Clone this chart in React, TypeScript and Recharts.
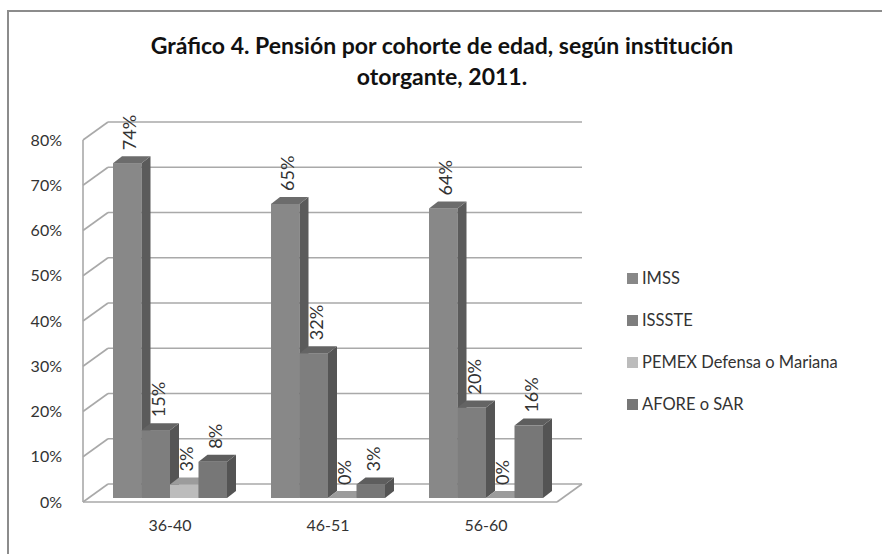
import { Bar, BarChart, CartesianGrid, LabelList, XAxis, YAxis } from 'recharts'

const categories = ['36-40', '46-51', '56-60']
const imss = [74, 65, 64]
const issste = [15, 32, 20]
const pemex = [3, 0, 0]
const afore = [8, 3, 16]
const seriesNames = ['IMSS', 'ISSSTE', 'PEMEX Defensa o Mariana', 'AFORE o SAR']
const yTicks = [0, 10, 20, 30, 40, 50, 60, 70, 80]

const chartData = categories.map((cat, i) => ({
  cat,
  imss: imss[i],
  issste: issste[i],
  pemex: pemex[i],
  afore: afore[i],
}))

// front / side / top shades per series
const shades = [
  { key: 'imss', front: '#888888', side: '#5b5b5b', top: '#6c6c6c' },
  { key: 'issste', front: '#7e7e7e', side: '#555555', top: '#646464' },
  { key: 'pemex', front: '#bcbcbc', side: '#8c8c8c', top: '#9c9c9c' },
  { key: 'afore', front: '#777777', side: '#545454', top: '#5e5e5e' },
]

const FONT = 'Lato, "Open Sans", sans-serif'
// XAxis (30px) and YAxis (60px) take their room out of these margins
const MARGIN = { top: 140, right: 325, bottom: 22, left: 23 }
const PLOT_BOTTOM = 554 - MARGIN.bottom - 30
const WALL_DX = 25
const WALL_DY = -18
const BAR_DX = 8
const BAR_DY = -4
const DEPTH_X = 9
const DEPTH_Y = -7
const GRID = '#a9a9a9'

const makeShape = (s: (typeof shades)[number]) => (props: any) => {
  const { x, y, width, height } = props
  const fx = x + BAR_DX
  const fy = y + BAR_DY
  const h = Math.max(height, 0)
  return (
    <g>
      <rect x={fx} y={fy} width={width} height={h} fill={s.front} />
      <polygon
        points={`${fx + width},${fy} ${fx + width + DEPTH_X},${fy + DEPTH_Y} ${fx + width + DEPTH_X},${fy + h + DEPTH_Y} ${fx + width},${fy + h}`}
        fill={s.side}
      />
      <polygon
        points={`${fx},${fy} ${fx + DEPTH_X},${fy + DEPTH_Y} ${fx + width + DEPTH_X},${fy + DEPTH_Y} ${fx + width},${fy}`}
        fill={s.top}
      />
    </g>
  )
}

const renderLabel = (props: any) => {
  const { x, y, width, value } = props
  const cx = x + BAR_DX + width / 2 + 2
  const cy = y + BAR_DY + DEPTH_Y - 6
  return (
    <text
      x={cx}
      y={cy}
      transform={`rotate(-90 ${cx} ${cy})`}
      dominantBaseline='central'
      textAnchor='start'
      fontSize={18}
      fontFamily={FONT}
      fill='#333'
    >
      {value + '%'}
    </text>
  )
}

const renderGridLine = (props: any) => {
  const { x1, x2, y1, index } = props
  const isFloor = Math.abs(y1 - PLOT_BOTTOM) < 1
  return (
    <g key={'grid-' + index}>
      <line
        x1={x1 + WALL_DX}
        y1={y1 + WALL_DY}
        x2={x2 + WALL_DX}
        y2={y1 + WALL_DY}
        stroke={GRID}
        strokeWidth={1.6}
      />
      <line x1={x1} y1={y1} x2={x1 + WALL_DX} y2={y1 + WALL_DY} stroke={GRID} strokeWidth={1.6} />
      {isFloor && (
        <>
          <line x1={x1} y1={y1} x2={x2} y2={y1} stroke={GRID} strokeWidth={1.6} />
          <line x1={x2} y1={y1} x2={x2 + WALL_DX} y2={y1 + WALL_DY} stroke={GRID} strokeWidth={1.6} />
        </>
      )}
    </g>
  )
}

const Legend3D = () => (
  <div style={{ position: 'absolute', left: 627, top: 257, fontFamily: FONT, fontSize: 16.5, color: '#333' }}>
    {seriesNames.map((name, i) => (
      <div key={name} style={{ display: 'flex', alignItems: 'center', height: 42 }}>
        <span style={{ width: 11, height: 11, background: shades[i].front, marginRight: 4 }} />
        <span>{name}</span>
      </div>
    ))}
  </div>
)

export default function App() {
  return (
    <div style={{ position: 'relative', width: 882, height: 554, overflow: 'hidden', background: '#fff' }}>
      <style>{'body{margin:0}'}</style>
      <div
        style={{
          position: 'absolute',
          left: 7,
          top: 10,
          width: 900,
          height: 600,
          borderTop: '2px solid #8c8c8c',
          borderLeft: '2px solid #8c8c8c',
        }}
      />
      <div
        style={{
          position: 'absolute',
          left: 0,
          top: 30,
          width: 884,
          textAlign: 'center',
          fontFamily: FONT,
          fontWeight: 700,
          fontSize: 23,
          lineHeight: '31px',
          color: '#111',
        }}
      >
        Gráfico 4. Pensión por cohorte de edad, según institución
        <br />
        otorgante, 2011.
      </div>
      <div style={{ position: 'absolute', left: 0, top: 0 }}>
        <BarChart width={882} height={554} data={chartData} margin={MARGIN} barSize={28.5} barGap={0}>
          <CartesianGrid vertical={false} horizontal={renderGridLine} />
          <XAxis
            dataKey='cat'
            axisLine={false}
            tickLine={false}
            tickMargin={12}
            tick={{ fontSize: 16, fontFamily: FONT, fill: '#333', dx: 8 }}
          />
          <YAxis
            width={60}
            domain={[0, 80]}
            ticks={yTicks}
            interval={0}
            tickFormatter={(v) => v + '%'}
            axisLine={{ stroke: GRID, strokeWidth: 1.6 }}
            tickLine={false}
            tickMargin={15}
            tick={{ fontSize: 16, fontFamily: FONT, fill: '#333' }}
          />
          {shades.map((s) => (
            <Bar key={s.key} dataKey={s.key} shape={makeShape(s)} isAnimationActive={false}>
              <LabelList dataKey={s.key} content={renderLabel} />
            </Bar>
          ))}
        </BarChart>
      </div>
      <Legend3D />
    </div>
  )
}
